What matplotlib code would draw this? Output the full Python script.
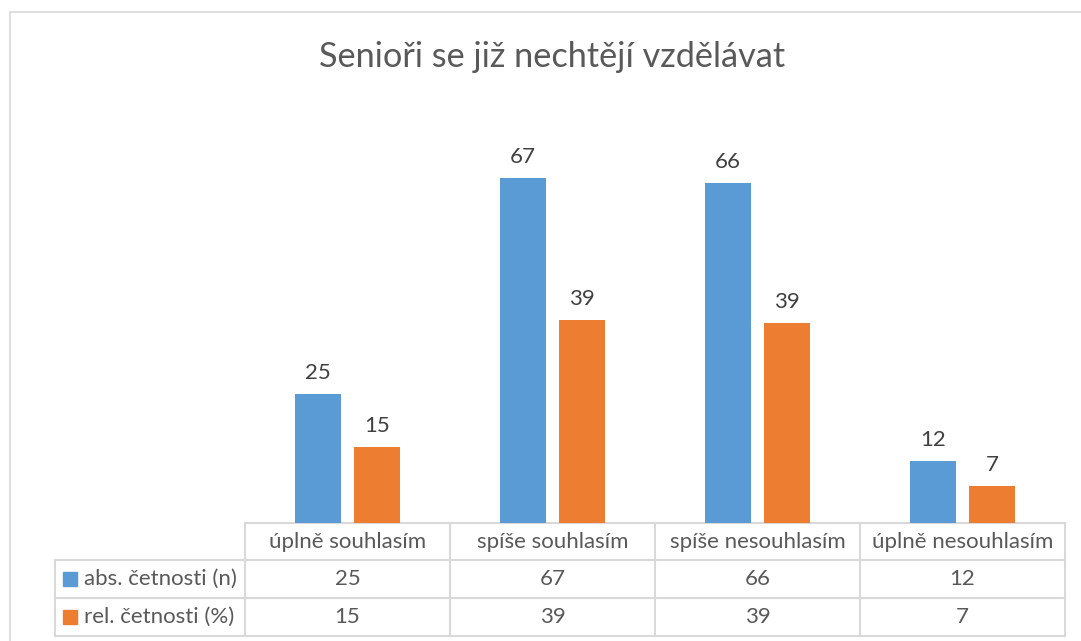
import matplotlib
matplotlib.use("Agg")
import matplotlib.pyplot as plt
from matplotlib.lines import Line2D
from matplotlib.patches import Rectangle

title = "Senioři se již nechtějí vzdělávat"
categories = ["úplně souhlasím", "spíše souhlasím", "spíše nesouhlasím", "úplně nesouhlasím"]
series_names = ["abs. četnosti (n)", "rel. četnosti (%)"]
abs_values = [25, 67, 66, 12]
rel_values = [14.7, 39.4, 38.8, 7.1]
colors = ["#5B9BD5", "#ED7D31"]

W, H = 1081, 641
fig = plt.figure(figsize=(W / 100, H / 100), dpi=100)
fig.patch.set_facecolor("white")

FONT = ["Lato", "DejaVu Sans"]
TXT = "#595959"
GRID = "#D9D9D9"

# overlay axes in pixel coordinates for frame & table
ov = fig.add_axes([0, 0, 1, 1])
ov.set_xlim(0, W)
ov.set_ylim(H, 0)
ov.axis("off")

# outer chart border
ov.add_line(Line2D([10, 10], [12, H + 5], color=GRID, lw=1.2))
ov.add_line(Line2D([10, W + 5], [12, 12], color=GRID, lw=1.2))

# title
ov.text(552, 57, title, ha="center", va="center", fontsize=24.7, color=TXT,
        family=FONT, fontweight="normal")

# bar axes
x0, x1 = 245, 1065
y_base, y_top = 523, 111
ax = fig.add_axes([x0 / W, 1 - y_base / H, (x1 - x0) / W, (y_base - y_top) / H])
ax.set_xlim(-0.5, len(categories) - 0.5)
ax.set_ylim(0, 80)
ax.axis("off")
ax.patch.set_alpha(0)

bw = 0.224
gap = 0.063
off = (bw + gap) / 2
idx = list(range(len(categories)))
b1 = ax.bar([i - off for i in idx], abs_values, width=bw, color=colors[0])
b2 = ax.bar([i + off for i in idx], rel_values, width=bw, color=colors[1])
for b in (b1, b2):
    ax.bar_label(b, labels=[f"{v:.0f}" for v in b.datavalues], padding=8,
                 fontsize=16, color="#404040", family=FONT)

# table
col_w = (x1 - x0) / len(categories)
rows_y = [523, 560, 598, 636]
lab_x = 55
lw = 1.5
ov.add_line(Line2D([x0, x1], [rows_y[0], rows_y[0]], color=GRID, lw=lw))
for y in rows_y[1:]:
    ov.add_line(Line2D([lab_x, x1], [y, y], color=GRID, lw=lw))
ov.add_line(Line2D([lab_x, lab_x], [rows_y[1], rows_y[3]], color=GRID, lw=lw))
for i in range(len(categories) + 1):
    xx = x0 + col_w * i
    ov.add_line(Line2D([xx, xx], [rows_y[0], rows_y[3]], color=GRID, lw=lw))

fs = 16
for i, cat in enumerate(categories):
    cx = x0 + col_w * (i + 0.5)
    ov.text(cx, (rows_y[0] + rows_y[1]) / 2, cat, ha="center", va="center",
            fontsize=fs, color=TXT, family=FONT)
    ov.text(cx, (rows_y[1] + rows_y[2]) / 2, f"{abs_values[i]:.0f}", ha="center",
            va="center", fontsize=fs, color=TXT, family=FONT)
    ov.text(cx, (rows_y[2] + rows_y[3]) / 2, f"{rel_values[i]:.0f}", ha="center",
            va="center", fontsize=fs, color=TXT, family=FONT)

for r, name in enumerate(series_names):
    cy = (rows_y[r + 1] + rows_y[r + 2]) / 2
    ov.add_patch(Rectangle((63, cy - 7), 14, 14, color=colors[r]))
    ov.text(84, cy, name, ha="left", va="center", fontsize=fs, color=TXT, family=FONT)

fig.savefig("out.png", dpi=100, facecolor="white")
